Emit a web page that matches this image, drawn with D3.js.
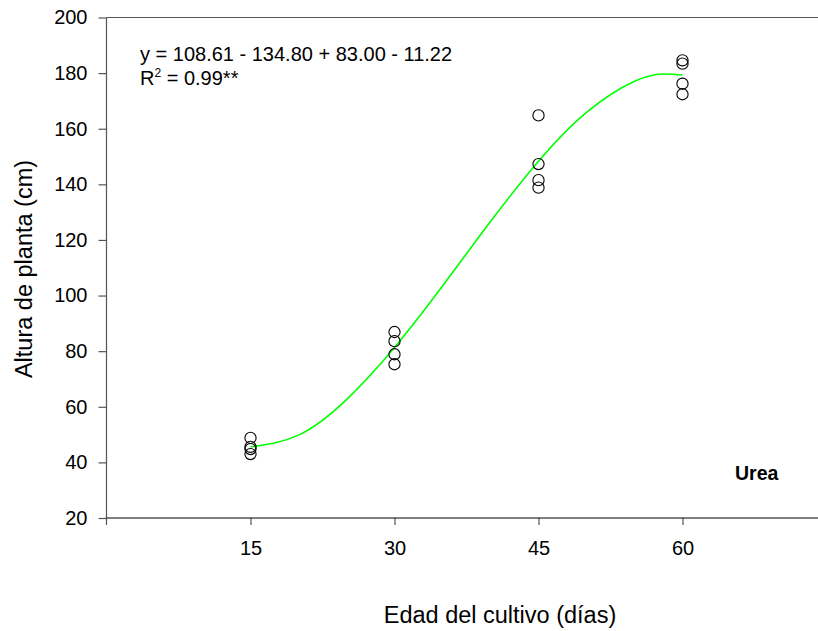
<!DOCTYPE html>
<html>
<head>
<meta charset="utf-8">
<title>Altura de planta - Urea</title>
<script src="https://cdn.jsdelivr.net/npm/d3@7"></script>
<style>
  body { margin: 0; background: #fff; }
  svg text { font-family: 'Liberation Sans', Arial, sans-serif; }
</style>
</head>
<body>
<svg id="chart" width="818" height="631"></svg>
<script>
// observed heights (cm) by crop age (days)
var days = [15, 30, 45, 60];
var heights = [
  [48.8, 45.6, 44.8, 43.0],
  [86.9, 83.6, 78.9, 75.3],
  [164.8, 147.3, 141.5, 138.8],
  [184.6, 183.4, 176.2, 172.4]
];
// fitted curve
var curveDays = [15, 20, 25, 30, 35, 40, 45, 50, 55, 58, 60];
var curveVals = [45.6, 49.8, 62.6, 81.3, 103.4, 126.6, 148.3, 165.9, 177.1, 179.7, 179.3];
var yTicks = [20, 40, 60, 80, 100, 120, 140, 160, 180, 200];

var svg = d3.select("#chart");

var x = d3.scaleLinear().domain([0, 75]).range([106.5, 826.5]);
var y = d3.scaleLinear().domain([20, 200]).range([518, 17.5]);

// top border
svg.append("line")
  .attr("x1", x(0)).attr("x2", 818)
  .attr("y1", y(200)).attr("y2", y(200))
  .attr("stroke", "#555").attr("stroke-width", 1.2);

// y axis
var yAxis = svg.append("g")
  .attr("transform", "translate(" + x(0) + ",0)")
  .call(d3.axisLeft(y).tickValues(yTicks).tickSize(8).tickPadding(11).tickSizeOuter(0));
yAxis.select(".domain").remove();
yAxis.append("line")
  .attr("x1", 0).attr("x2", 0)
  .attr("y1", y(200)).attr("y2", y(20) + 7)
  .attr("stroke", "#555").attr("stroke-width", 1.2);
yAxis.selectAll(".tick line").attr("stroke", "#555").attr("stroke-width", 1.2);
yAxis.selectAll(".tick text").attr("font-size", 20).attr("fill", "#000")
  .attr("font-family", "'Liberation Sans', Arial, sans-serif");

// x axis
var xAxis = svg.append("g")
  .attr("transform", "translate(0," + y(20) + ")")
  .call(d3.axisBottom(x).tickValues(days).tickSize(7).tickPadding(16).tickSizeOuter(0));
xAxis.select(".domain").remove();
xAxis.append("line")
  .attr("x1", x(0)).attr("x2", 818)
  .attr("y1", 0).attr("y2", 0)
  .attr("stroke", "#000").attr("stroke-width", 1.2);
xAxis.selectAll(".tick line").attr("stroke", "#555").attr("stroke-width", 1.2);
xAxis.selectAll(".tick text").attr("font-size", 20).attr("fill", "#000")
  .attr("font-family", "'Liberation Sans', Arial, sans-serif");

// fitted curve
var line = d3.line()
  .x(function(d, i) { return x(curveDays[i]); })
  .y(function(d) { return y(d); })
  .curve(d3.curveNatural);

svg.append("path")
  .datum(curveVals)
  .attr("d", line)
  .attr("fill", "none")
  .attr("stroke", "#00ff00")
  .attr("stroke-width", 1.6);

// points
var pts = [];
days.forEach(function(d, i) {
  heights[i].forEach(function(h) { pts.push({ d: d, h: h }); });
});

svg.selectAll("circle.pt")
  .data(pts)
  .enter().append("circle")
  .attr("class", "pt")
  .attr("cx", function(p) { return x(p.d); })
  .attr("cy", function(p) { return y(p.h); })
  .attr("r", 5.6)
  .attr("fill", "none")
  .attr("stroke", "#000")
  .attr("stroke-width", 1.1);

// equation
svg.append("text")
  .attr("x", 140).attr("y", 60.5)
  .attr("font-size", 20)
  .text("y = 108.61 - 134.80 + 83.00 - 11.22");

var r2 = svg.append("text")
  .attr("x", 140).attr("y", 85)
  .attr("font-size", 20);
r2.append("tspan").text("R");
r2.append("tspan").attr("font-size", 12).attr("dy", -8).text("2");
r2.append("tspan").attr("dy", 8).text(" = 0.99**");

// panel label
svg.append("text")
  .attr("x", 735).attr("y", 480)
  .attr("font-size", 19.5)
  .attr("font-weight", "bold")
  .text("Urea");

// axis titles
svg.append("text")
  .attr("x", 500).attr("y", 623)
  .attr("text-anchor", "middle")
  .attr("font-size", 23.5)
  .text("Edad del cultivo (días)");

svg.append("text")
  .attr("transform", "translate(32,269) rotate(-90)")
  .attr("text-anchor", "middle")
  .attr("font-size", 23.5)
  .text("Altura de planta (cm)");
</script>
</body>
</html>
